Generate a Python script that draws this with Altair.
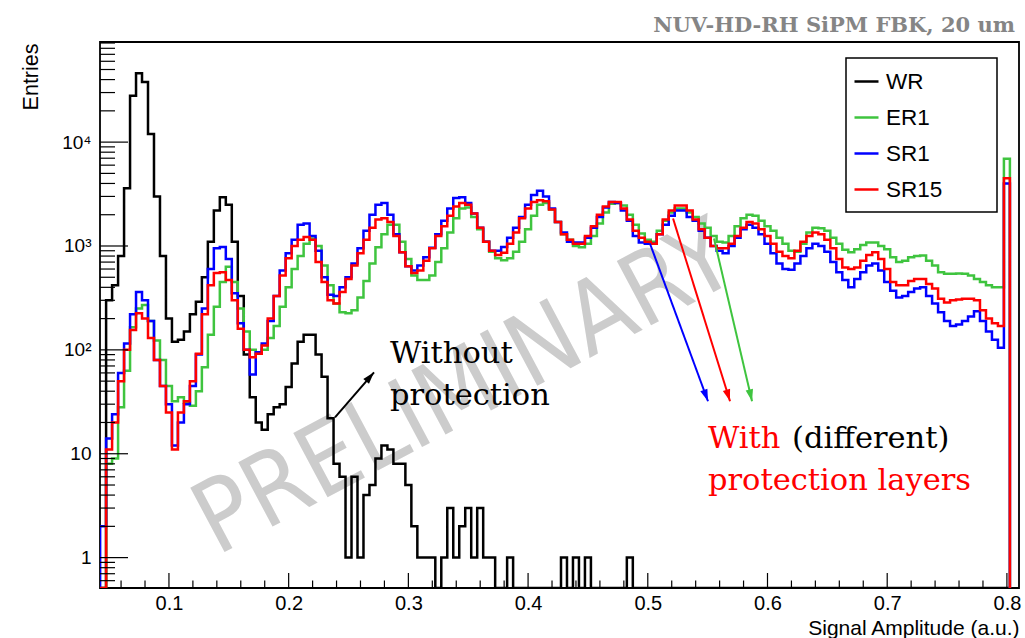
import altair as alt
import pandas as pd

# ---------------- data (bin contents) ----------------
bin_start = 0.0425
bin_width = 0.005
series_names = ["WR", "ER1", "SR1", "SR15"]
series_colors = ["#000000", "#3fc43f", "#0000ff", "#ff0000"]

wr = [
    0, 300, 420, 800, 3600, 28000, 46000, 38000, 12000, 3000,
    800, 200, 120, 125, 150, 220, 290, 500, 1100, 2200,
    2950, 2500, 1100, 330, 90, 35, 20, 17, 24, 28,
    30, 44, 74, 120, 140, 140, 90, 55, 22, 8,
    6, 1, 6, 1, 4, 5, 9, 12, 11, 8,
    8, 5, 2, 1, 1, 1, 0, 1, 3, 1,
    2, 3, 1, 3, 1, 1, 0, 0, 1, 0,
    0, 0, 0, 0, 0, 0, 0, 1, 0, 1,
    0, 1, 0, 0, 0, 0, 0, 0, 1, 0,
    0, 0, 0, 0, 0, 0, 0, 0, 0, 0,
    0, 0, 0, 0, 0, 0, 0, 0, 0, 0,
    0, 0, 0, 0, 0, 0, 0, 0, 0, 0,
    0, 0, 0, 0, 0, 0, 0, 0, 0, 0,
    0, 0, 0, 0, 0, 0, 0, 0, 0, 0,
    0, 0, 0, 0, 0, 0, 0, 0, 0, 0,
    0, 0,
]
er1 = [
    0, 8, 9, 28, 63, 165, 250, 270, 190, 123,
    80, 45, 32, 35, 31, 29, 40, 68, 140, 260,
    450, 630, 450, 250, 150, 100, 92, 100, 130, 170,
    260, 400, 600, 800, 1050, 1180, 1000, 650, 420, 280,
    230, 225, 240, 320, 460, 680, 975, 1300, 1600, 1600,
    1100, 750, 520, 470, 470, 520, 700, 950, 1350, 1850,
    2300, 2350, 1900, 1450, 1100, 880, 760, 730, 760, 880,
    1100, 1450, 1950, 2500, 2600, 2250, 1700, 1300, 1150, 1000,
    970, 1050, 1250, 1650, 2100, 2550, 2600, 2450, 2000, 1600,
    1320, 1150, 1100, 1400, 1750, 2100, 2300, 2300, 2100, 1900,
    1650, 1500, 1250, 1100, 1080, 1250, 1550, 1850, 2000, 1950,
    1750, 1550, 1400, 1200, 1050, 900, 880, 1050, 1350, 1500,
    1480, 1400, 1200, 1050, 920, 870, 930, 1020, 1080, 1080,
    1000, 930, 780, 700, 720, 780, 800, 810, 720, 650,
    560, 540, 540, 545, 540, 520, 480, 450, 420, 400,
    400, 6900,
]
sr1 = [
    2, 14, 24, 60, 115, 220, 360, 300, 190, 80,
    45, 30, 12, 20, 30, 45, 90, 250, 600, 950,
    980, 750, 350, 180, 100, 58, 95, 115, 190, 330,
    580, 850, 1150, 1600, 1650, 1250, 900, 500, 340, 330,
    400, 500, 680, 950, 1400, 2000, 2500, 2600, 2000, 1300,
    870, 640, 580, 650, 780, 960, 1300, 1750, 2300, 2900,
    2950, 2600, 2050, 1500, 1100, 900, 900, 980, 1200, 1500,
    1900, 2500, 3100, 3400, 3000, 2300, 1700, 1350, 1100, 1080,
    1080, 1200, 1500, 1900, 2350, 2650, 2600, 2200, 1750, 1250,
    1080, 1050, 1050, 1300, 1600, 1950, 2200, 2200, 1900, 1750,
    1400, 1200, 1000, 900, 850, 1000, 1200, 1450, 1600, 1500,
    1300, 1050, 850, 680, 600, 590, 680, 800, 950, 1050,
    1000, 880, 700, 560, 470, 400, 480, 560, 650, 680,
    580, 450, 370, 320, 330, 360, 390, 400, 330, 280,
    230, 190, 170, 175, 190, 210, 235, 190, 150, 125,
    105, 4000,
]
sr15 = [
    0, 11, 20, 50, 100, 155, 225, 200, 130, 80,
    45, 25, 11, 25, 32, 50, 92, 220, 420, 550,
    560, 470, 300, 160, 100, 85, 92, 110, 200, 330,
    520, 760, 1000, 1150, 1220, 1150, 700, 450, 300, 280,
    360, 480, 650, 850, 1150, 1500, 1800, 1850, 1700, 1250,
    870, 640, 550, 580, 720, 950, 1250, 1550, 1950, 2400,
    2600, 2500, 2050, 1500, 1100, 900, 820, 860, 1050, 1350,
    1850, 2300, 2650, 2750, 2700, 2250, 1700, 1300, 1150, 1050,
    1050, 1250, 1550, 2000, 2400, 2650, 2650, 2300, 1800, 1400,
    1200, 1100, 1050, 1300, 1800, 2200, 2450, 2450, 2200, 1800,
    1450, 1200, 1000, 950, 950, 1050, 1250, 1500, 1700, 1650,
    1450, 1250, 1050, 880, 800, 760, 900, 1100, 1250, 1350,
    1300, 1150, 950, 750, 620, 600, 620, 720, 820, 870,
    750, 600, 450, 420, 420, 460, 480, 480, 430, 390,
    310, 285, 300, 305, 310, 310, 300, 240, 200, 180,
    170, 4500,
]

x_major = [0.1, 0.2, 0.3, 0.4, 0.5, 0.6, 0.7, 0.8]
y_major = [1, 10, 100, 1000, 10000]

# annotation texts
ann_text = ["Without", "protection", "With", "(different)", "protection layers"]
ann_x = [0.2846, 0.2846, 0.5503, 0.6205, 0.5503]
ann_y = [74, 29.3, 11.3, 11.3, 4.46]
ann_color = ["#000000", "#000000", "#ff0000", "#000000", "#ff0000"]

# arrows
arr_x = [0.5018, 0.5211, 0.5553, 0.2387]
arr_y = [1057, 1837, 1181, 22.4]
arr_x2 = [0.5503, 0.5687, 0.5871, 0.2713]
arr_y2 = [32, 32, 32, 60.8]
arr_color = ["#0000ff", "#ff0000", "#3fc43f", "#000000"]
arr_angle = [159.8, 162.7, 166.9, 40.9]

top_label = "NUV-HD-RH SiPM FBK, 20 um"

# ---------------- build tables ----------------
FLOOR = 0.3  # empty bins: drawn on the lower frame (clamped)
edges = [round(bin_start + bin_width * i, 4) for i in range(len(wr) + 1)]
rows = []
for name, vals in zip(series_names, [wr, er1, sr1, sr15]):
    k = 0
    rows.append(dict(series=name, x=edges[0], y=FLOOR, k=k))
    k += 1
    for e, v in zip(edges[:-1], vals):
        rows.append(dict(series=name, x=e, y=(v if v > 0 else FLOOR), k=k))
        k += 1
    rows.append(dict(series=name, x=edges[-1], y=FLOOR, k=k))
hist = pd.DataFrame(rows)

x_minor = [round(0.04 + 0.02 * k, 2) for k in range(1, 39)]
x_minor = [v for v in x_minor if abs(v * 10 - round(v * 10)) > 1e-6]
y_minor = [m * 10 ** e for e in range(-1, 5) for m in range(2, 10)]
y_minor = [v for v in y_minor if 0.51 < v < 92000]

W, H = 919, 546
xs = alt.Scale(domain=[0.0424, 0.8101], nice=False, zero=False)
ys = alt.Scale(type="log", domain=[0.51, 92000], nice=False, clamp=True)

x_axis = alt.Axis(
    values=x_major, format=".1f", ticks=False, domain=False, grid=False,
    labelFont="Liberation Sans", labelFontSize=20, labelColor="#000", labelPadding=5,
    title="Signal Amplitude (a.u.)", titleFont="Liberation Sans", titleFontSize=21,
    titleFontWeight="normal", titleColor="#000", titleAnchor="end", titleAlign="right",
    titleBaseline="alphabetic", titleX=W, titleY=46,
)
y_axis = alt.Axis(
    values=y_major,
    labelExpr="datum.value > 5000 ? '10⁴' : datum.value > 500 ? '10³' : datum.value > 50 ? '10²' : datum.value > 5 ? '10' : '1'",
    ticks=False, domain=False, grid=False,
    labelFont="Liberation Sans", labelFontSize=19, labelColor="#000", labelPadding=9,
    title="Entries", titleFont="Liberation Sans", titleFontSize=21.5, titleFontWeight="normal",
    titleColor="#000", titleAngle=270, titleAlign="right", titleBaseline="alphabetic",
    titleX=-63, titleY=1,
)


def X(field="x"):
    return alt.X(f"{field}:Q", scale=xs, axis=x_axis, title="Signal Amplitude (a.u.)")


def Y(field="y"):
    return alt.Y(f"{field}:Q", scale=ys, axis=y_axis, title="Entries")


color = alt.Color(
    "series:N",
    scale=alt.Scale(domain=series_names, range=series_colors),
    legend=alt.Legend(
        title=None, orient="none", legendX=753, legendY=26, symbolType="stroke",
        symbolSize=576, symbolStrokeWidth=2.5, labelFontSize=22.5, labelFont="Liberation Sans",
        labelColor="#000", labelOffset=6, rowPadding=11, padding=0,
    ),
)

layers = []

# histogram lines (first, so that they define the axes)
for name in series_names:
    layers.append(
        alt.Chart(hist).transform_filter(alt.datum.series == name)
        .mark_line(interpolate="step-after", strokeWidth=2.5, clip=True)
        .encode(x=X(), y=Y(), color=color, order="k:Q")
    )

# watermark (drawn beneath the lines)
wm = alt.Chart(pd.DataFrame({"x": [0.3473], "y": [40.8], "t": ["PRELIMINARY"]})).mark_text(
    angle=332, fontSize=100,
    font="'Liberation Sans Narrow', 'DejaVu Sans Condensed', 'Liberation Sans'",
    color="#cccccc", align="center", baseline="middle",
).encode(x=X(), y=Y(), text="t:N")

# ROOT-style inward ticks
layers.append(alt.Chart(pd.DataFrame({"x": x_major})).mark_rule(color="#000", strokeWidth=1.2).encode(
    x=X(), y=alt.value(H), y2=alt.value(H - 15)))
layers.append(alt.Chart(pd.DataFrame({"x": x_minor})).mark_rule(color="#000", strokeWidth=1.2).encode(
    x=X(), y=alt.value(H), y2=alt.value(H - 7.5)))
layers.append(alt.Chart(pd.DataFrame({"y": y_major})).mark_rule(color="#000", strokeWidth=1.2).encode(
    y=Y(), x=alt.value(0), x2=alt.value(28)))
layers.append(alt.Chart(pd.DataFrame({"y": y_minor})).mark_rule(color="#000", strokeWidth=1.2).encode(
    y=Y(), x=alt.value(0), x2=alt.value(15)))

# annotation texts
ann = pd.DataFrame({"x": ann_x, "y": ann_y, "t": ann_text, "c": ann_color})
layers.append(alt.Chart(ann).mark_text(
    align="left", baseline="alphabetic", font="DejaVu Serif", fontSize=30.5,
).encode(x=X(), y=Y(), text="t:N", color=alt.Color("c:N", scale=None)))

# arrows
arr = pd.DataFrame({"x": arr_x, "y": arr_y, "x2": arr_x2, "y2": arr_y2, "c": arr_color})
layers.append(alt.Chart(arr).mark_rule(strokeWidth=2).encode(
    x=X(), y=Y(), x2="x2:Q", y2="y2:Q", color=alt.Color("c:N", scale=None)))
heads = pd.DataFrame({"x": arr_x2, "y": arr_y2, "c": arr_color, "a": arr_angle})
layers.append(alt.Chart(heads).mark_point(
    shape="M0,0L-0.75,2.4L0.75,2.4Z", filled=True, size=100, opacity=1,
).encode(x=X(), y=Y(), angle=alt.Angle("a:Q", scale=None), color=alt.Color("c:N", scale=None)))

# legend frame
layers.append(alt.Chart(pd.DataFrame({"a": [0]})).mark_rect(
    fill="white", stroke="#000", strokeWidth=1.5).encode(
    x=alt.value(746), x2=alt.value(897), y=alt.value(16), y2=alt.value(170)))

# label above the frame, top right
layers.append(alt.Chart(pd.DataFrame({"t": [top_label]})).mark_text(
    align="right", baseline="alphabetic", font="DejaVu Serif", fontSize=21, fontWeight="bold",
    color="#858585").encode(x=alt.value(915), y=alt.value(-10), text="t:N"))

chart = alt.layer(wm, *layers).properties(
    width=W, height=H,
    padding={"left": 100, "top": 42, "right": 6, "bottom": 50},
    autosize=alt.AutoSizeParams(type="none"),
    background="white",
).configure_view(stroke="#000", strokeWidth=1.8)

chart.save("out.html", embed_options={"renderer": "svg", "actions": False})
